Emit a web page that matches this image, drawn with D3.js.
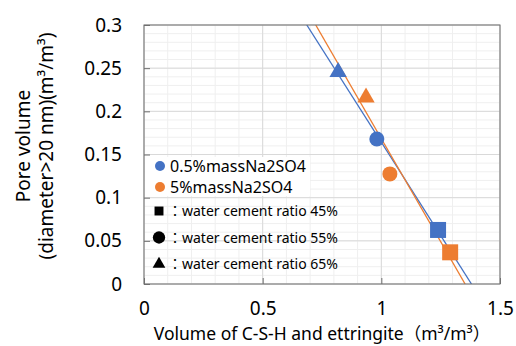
<!DOCTYPE html>
<html>
<head>
<meta charset="utf-8">
<script src="https://cdn.jsdelivr.net/npm/d3@7"></script>
<style>
  body { margin: 0; background: #fff; }
  text { font-family: "Noto Sans", "Noto Sans CJK JP", sans-serif; fill: #000; }
</style>
</head>
<body>
<div id="chart"></div>
<script>
// pore volume vs volume of C-S-H + ettringite, two sulfate series, 3 w/c ratios

const seriesNames = ["0.5%massNa2SO4", "5%massNa2SO4"];
const seriesColors = ["#4472C4", "#ED7D31"];
const ratios = ["45%", "55%", "65%"];            // square, circle, triangle
const blueX = [1.239, 0.981, 0.818];
const blueY = [0.0626, 0.168, 0.2456];
const orangeX = [1.290, 1.036, 0.9355];
const orangeY = [0.0367, 0.1275, 0.2159];
const xTicks = [0, 0.5, 1, 1.5];
const yTicks = [0, 0.05, 0.1, 0.15, 0.2, 0.25, 0.3];

const W = 516, H = 346;
const margin = { top: 25, right: 16, bottom: 62, left: 144 };
const width = W - margin.left - margin.right;
const height = H - margin.top - margin.bottom;

const svg = d3.select("#chart").append("svg")
  .attr("width", W).attr("height", H);

const x = d3.scaleLinear().domain([0, 1.5]).range([0, width]);
const y = d3.scaleLinear().domain([0, 0.3]).range([height, 0]);

const g = svg.append("g")
  .attr("transform", "translate(" + margin.left + "," + margin.top + ")");

// grid, minor first then major
const minorX = d3.range(0, 1.5001, 0.1);
const minorY = d3.range(0, 0.3001, 0.01);
g.append("g").selectAll("line").data(minorX).enter().append("line")
  .attr("x1", d => x(d)).attr("x2", d => x(d)).attr("y1", 0).attr("y2", height)
  .attr("stroke", "#efefef");
g.append("g").selectAll("line").data(minorY).enter().append("line")
  .attr("y1", d => y(d)).attr("y2", d => y(d)).attr("x1", 0).attr("x2", width)
  .attr("stroke", "#efefef");
g.append("g").selectAll("line").data(xTicks).enter().append("line")
  .attr("x1", d => x(d)).attr("x2", d => x(d)).attr("y1", 0).attr("y2", height)
  .attr("stroke", "#d9d9d9");
g.append("g").selectAll("line").data(yTicks).enter().append("line")
  .attr("y1", d => y(d)).attr("y2", d => y(d)).attr("x1", 0).attr("x2", width)
  .attr("stroke", "#d9d9d9");

// legend box (covers grid)
g.append("rect")
  .attr("x", 1).attr("y", 132).attr("width", 165).attr("height", 39)
  .attr("fill", "#fff");

// trend lines (least squares)
function fit(xs, ys) {
  const mx = d3.mean(xs), my = d3.mean(ys);
  let sxy = 0, sxx = 0;
  xs.forEach((v, i) => { sxy += (v - mx) * (ys[i] - my); sxx += (v - mx) * (v - mx); });
  const k = sxy / sxx;
  return { k: k, b: my - k * mx };
}

svg.append("clipPath").attr("id", "plot")
  .append("rect").attr("width", width).attr("height", height);

const plot = g.append("g").attr("clip-path", "url(#plot)");

const sets = [[blueX, blueY], [orangeX, orangeY]];
sets.forEach((s, i) => {
  const f = fit(s[0], s[1]);
  const x0 = (0.3 - f.b) / f.k, x1 = (0 - f.b) / f.k;
  plot.append("line")
    .attr("x1", x(x0)).attr("y1", y(0.3))
    .attr("x2", x(x1)).attr("y2", y(0))
    .attr("stroke", seriesColors[i]).attr("stroke-width", 1.3);
});

// markers
const shapes = [d3.symbolSquare, d3.symbolCircle, d3.symbolTriangle];
const sizes = [256, 177, 130];
sets.forEach((s, i) => {
  plot.append("g").selectAll("path").data(s[0]).enter().append("path")
    .attr("transform", (d, j) => "translate(" + x(d) + "," + y(s[1][j]) + ")")
    .attr("d", (d, j) => d3.symbol().type(shapes[j]).size(sizes[j])())
    .attr("fill", seriesColors[i]);
});

// frame
g.append("rect").attr("width", width).attr("height", height)
  .attr("fill", "none").attr("stroke", "#6f6f6f").attr("stroke-width", 1);

// axes with inward ticks
const xAxis = g.append("g").attr("transform", "translate(0," + height + ")")
  .call(d3.axisBottom(x).tickValues(xTicks).tickSize(-6).tickPadding(18)
    .tickFormat(d3.format("")));
const yAxis = g.append("g")
  .call(d3.axisLeft(y).tickValues(yTicks).tickSize(-6).tickPadding(22)
    .tickFormat(d => d === 0 ? "0" : String(+d.toFixed(2))));
[xAxis, yAxis].forEach(a => {
  a.select(".domain").remove();
  a.selectAll(".tick line").attr("stroke", "#6f6f6f");
  a.selectAll(".tick text").attr("font-size", 19)
    .style("font-family", "'Noto Sans', sans-serif");
});

// legend
const lg = g.append("g");
seriesNames.forEach((n, i) => {
  lg.append("circle").attr("cx", 16).attr("cy", 141 + i * 21).attr("r", 5)
    .attr("fill", seriesColors[i]);
  lg.append("text").attr("x", 26).attr("y", 146.5 + i * 21)
    .attr("font-size", 16).text(n);
});
const legSizes = [80, 120, 70];
ratios.forEach((r, i) => {
  const yy = 186 + i * 26.5;
  lg.append("path")
    .attr("transform", "translate(15," + yy + ")")
    .attr("d", d3.symbol().type(shapes[i]).size(legSizes[i])())
    .attr("fill", "#000");
  lg.append("text").attr("x", 24).attr("y", yy + 5)
    .attr("font-size", 14).text("：water cement ratio " + r);
});

// axis titles
svg.append("text")
  .attr("x", margin.left + width / 2).attr("y", 333)
  .attr("text-anchor", "middle").attr("dominant-baseline", "central")
  .attr("font-size", 17.5)
  .text("Volume of C-S-H and ettringite（m³/m³）");

const yt = svg.append("text")
  .attr("transform", "translate(0,146) rotate(-90)")
  .attr("text-anchor", "middle").attr("font-size", 19);
yt.append("tspan").attr("x", 0).attr("y", 23).attr("dominant-baseline", "central")
  .text("Pore volume");
yt.append("tspan").attr("x", 0).attr("y", 46).attr("dominant-baseline", "central")
  .text("(diameter>20 nm)(m³/m³)");
</script>
</body>
</html>
